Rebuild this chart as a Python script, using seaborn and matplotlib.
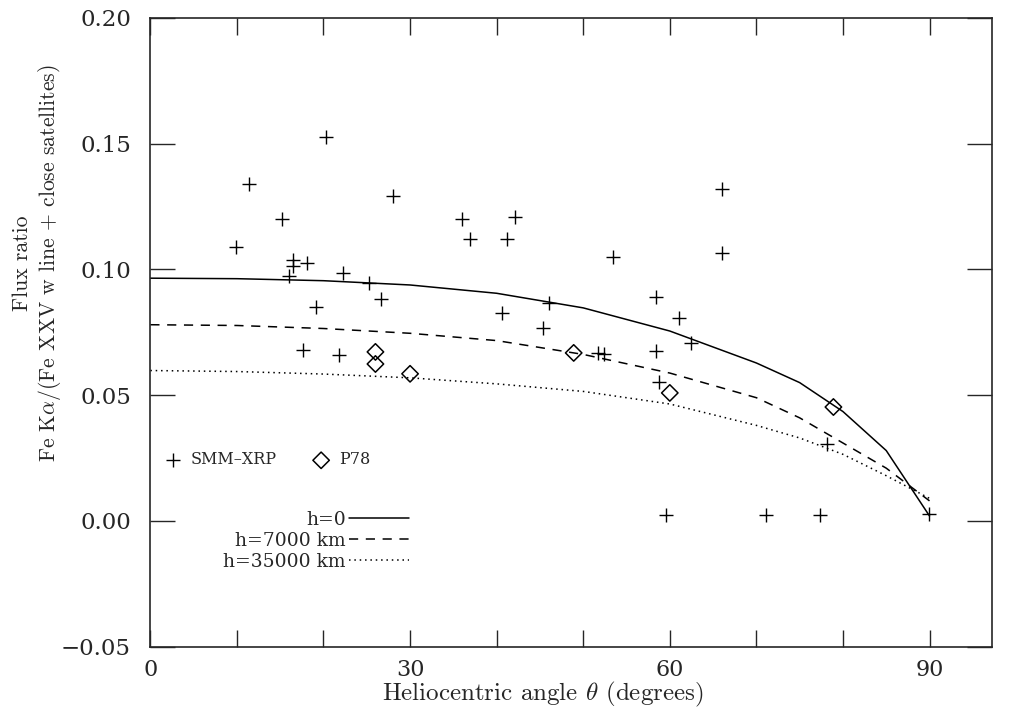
import numpy as np
import pandas as pd
import matplotlib
matplotlib.use('Agg')
import matplotlib.pyplot as plt
import seaborn as sns

# SMM-XRP flare measurements
smm_theta = [9.9, 11.4, 15.2, 16.0, 16.5, 16.5, 18.1, 19.1, 17.6, 20.3, 21.8, 22.2,
             25.2, 26.7, 28.0, 36.0, 36.9, 40.6, 41.2, 42.1, 45.3, 46.0, 51.7, 52.4,
             53.4, 58.4, 58.4, 58.7, 59.6, 61.1, 62.5, 66.0, 66.0, 71.1, 77.3, 78.2, 89.9]
smm_ratio = [0.109, 0.134, 0.120, 0.0974, 0.1037, 0.1014, 0.1025, 0.085, 0.068, 0.1526,
             0.066, 0.0985, 0.0946, 0.0882, 0.129, 0.120, 0.112, 0.0826, 0.112, 0.121,
             0.0767, 0.0866, 0.0668, 0.0662, 0.105, 0.089, 0.0676, 0.0553, 0.0024,
             0.0807, 0.0707, 0.132, 0.1065, 0.0024, 0.0024, 0.0306, 0.0028]

# P78 measurements
p78_theta = [26.0, 26.0, 30.0, 48.9, 60.0, 78.9]
p78_ratio = [0.0672, 0.0624, 0.0585, 0.0668, 0.0509, 0.0453]

# model curves for different source heights
model_theta = [0, 10, 20, 30, 40, 50, 60, 70, 75, 80, 85, 90]
flux_h0 = [0.0965, 0.0963, 0.0955, 0.0938, 0.0905, 0.0847, 0.0755, 0.0628, 0.0550, 0.0435, 0.0280, 0.0020]
flux_h7000 = [0.0780, 0.0777, 0.0765, 0.0746, 0.0717, 0.0662, 0.0588, 0.0490, 0.0410, 0.0310, 0.0210, 0.0080]
flux_h35000 = [0.0598, 0.0594, 0.0584, 0.0569, 0.0545, 0.0515, 0.0465, 0.0380, 0.0330, 0.0265, 0.0180, 0.0090]

sns.set_style('ticks')
plt.rcParams['font.family'] = ['DejaVu Serif']
plt.rcParams['mathtext.fontset'] = 'cm'

smm = pd.DataFrame({'theta': smm_theta, 'ratio': smm_ratio})
p78 = pd.DataFrame({'theta': p78_theta, 'ratio': p78_ratio})
models = pd.DataFrame({'theta': model_theta, 'h0': flux_h0,
                       'h7000': flux_h7000, 'h35000': flux_h35000})

fig = plt.figure(figsize=(10.09, 7.10), dpi=100)
ax = fig.add_axes([0.149, 0.089, 0.834, 0.886])

sns.scatterplot(data=smm, x='theta', y='ratio', marker='+', s=110, color='black',
                linewidth=1.0, label='SMM\u2013XRP', ax=ax)
sns.scatterplot(data=p78, x='theta', y='ratio', marker='D', s=70, facecolor='none',
                edgecolor='black', linewidth=1.1, label='P78', ax=ax)

sns.lineplot(data=models, x='theta', y='h0', color='black', lw=1.1,
             label='h=0', ax=ax)
sns.lineplot(data=models, x='theta', y='h7000', color='black', lw=1.1,
             linestyle=(0, (6, 5)), label='h=7000 km', ax=ax)
sns.lineplot(data=models, x='theta', y='h35000', color='black', lw=1.1,
             linestyle=(0, (1, 2.5)), label='h=35000 km', ax=ax)

ax.set_xlim(0, 97.2)
ax.set_ylim(-0.05, 0.20)

ax.set_xticks(range(0, 100, 10))
ax.set_xticklabels([str(t) if t % 30 == 0 else '' for t in range(0, 100, 10)])
ax.set_yticks([-0.05, 0.0, 0.05, 0.10, 0.15, 0.20])
ax.set_yticklabels(['\u22120.05', '0.00', '0.05', '0.10', '0.15', '0.20'])

ax.tick_params(axis='x', direction='in', length=12, width=1, top=True,
               labelsize=16, pad=9)
ax.tick_params(axis='y', direction='in', length=18, width=1, right=True,
               labelsize=16.5, pad=14)
for sp in ax.spines.values():
    sp.set_linewidth(1.2)

ax.set_xlabel(r'Heliocentric angle $\theta$ (degrees)', family='cmr10',
              fontsize=18)
ax.xaxis.set_label_coords(0.466, -0.053)
ax.set_ylabel('Flux ratio\nFe K$\\alpha$/(Fe XXV w line + close satellites)',
              family='cmr10', fontsize=15.6, linespacing=1.2)
ax.yaxis.set_label_coords(-0.104, 0.61)

handles, labels = ax.get_legend_handles_labels()
leg1 = ax.legend(handles[:2], labels[:2], ncol=2, loc='center left',
                 bbox_to_anchor=(0.0, 0.297), frameon=False, fontsize=11.5,
                 handletextpad=0.1, columnspacing=1.8, borderaxespad=0.0)
ax.add_artist(leg1)
ax.legend(handles[2:], labels[2:], loc='upper left', markerfirst=False,
          bbox_to_anchor=(0.078, 0.228), frameon=False, fontsize=13.5,
          handlelength=3.2, handletextpad=0.15, labelspacing=0.15,
          borderaxespad=0.0)

fig.savefig('out.png', dpi=100)
